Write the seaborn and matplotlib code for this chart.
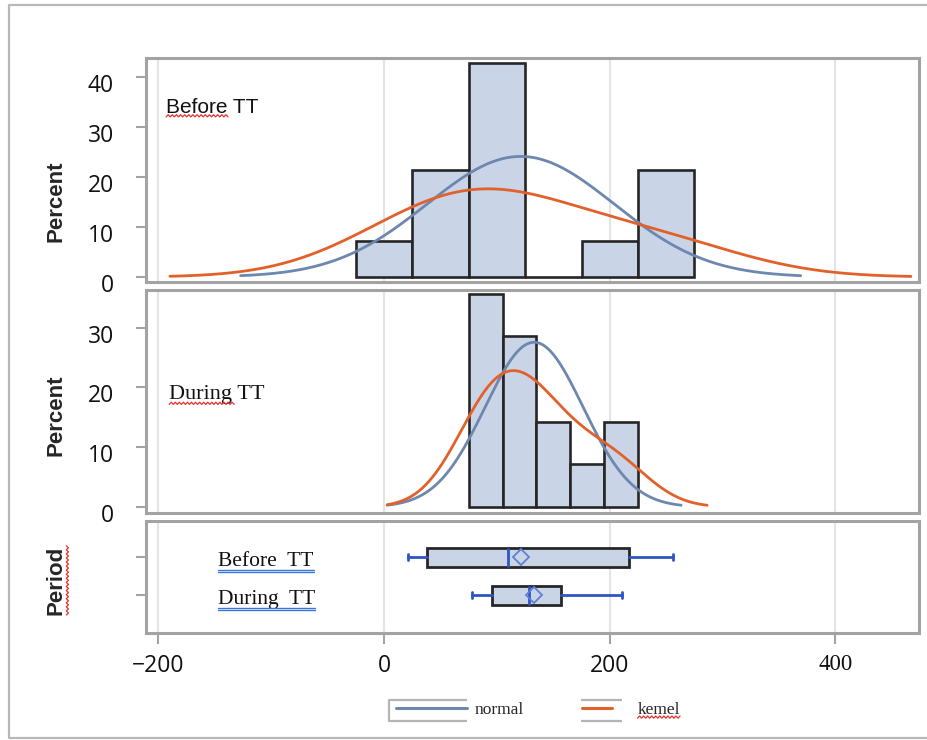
import numpy as np
import pandas as pd
import matplotlib
matplotlib.use("Agg")
import matplotlib.pyplot as plt
import matplotlib.transforms as mtransforms
from matplotlib.lines import Line2D
import seaborn as sns

# ---------------- data ----------------
periods = ["Before TT", "During TT"]
box_labels = ["Before  TT", "During  TT"]
before_values = [21, 27, 30, 55, 78, 95, 105, 110, 112, 120, 195, 240, 250, 256]
during_values = [78, 86, 92, 97, 102, 110, 127, 132, 134, 142, 160, 185, 205, 211]
before_bins = [-25, 25, 75, 125, 175, 225, 275]
during_bins = [75, 105, 135, 165, 195, 225]
kde_bw_adjust = [1.6, 1.25]
kde_cut = [2.7, 2.35]
# box statistics: whisker low, Q1, median, Q3, whisker high, mean
box_whislo = [21, 78]
box_q1 = [38, 96]
box_med = [110, 128]
box_q3 = [217, 157]
box_whishi = [256, 211]
box_mean = [121, 133]
x_ticks = [-200, 0, 200, 400]
top_yticks = [0, 10, 20, 30, 40]
mid_yticks = [0, 10, 20, 30]
legend_labels = ["normal", "kemel"]

# ---------------- style ----------------
sns.set_style("white")
plt.rcParams["font.family"] = ["Open Sans", "DejaVu Sans"]
W, H = 927, 740
BAR = "#C9D5E6"
EDGE = "#262626"
NORMAL = "#6D87AE"
KERNEL = "#E2612B"
FRAME = "#A3A3A3"
GRID = "#E4E4E4"
WHISK = "#2D56C2"
SERIF = ["Liberation Serif", "DejaVu Serif"]
SANS2 = ["Liberation Sans", "DejaVu Sans"]

fig = plt.figure(figsize=(W / 100, H / 100), dpi=100)


def axes_px(left, top, right, bottom):
    return fig.add_axes([left / W, 1 - bottom / H, (right - left) / W, (bottom - top) / H])


ax_top = axes_px(146, 58, 919, 282)
ax_mid = axes_px(146, 290, 919, 513)
ax_box = axes_px(146, 521, 919, 633)

XLIM = (-211, 474)


def style_axes(ax):
    ax.set_xlim(*XLIM)
    ax.set_xticks(x_ticks)
    ax.grid(axis="x", color=GRID, lw=1.5, zorder=0)
    ax.grid(axis="y", visible=False)
    ax.set_axisbelow(True)
    for sp in ax.spines.values():
        sp.set_color(FRAME)
        sp.set_linewidth(2.2)
    ax.tick_params(axis="y", length=7, width=1.5, color=FRAME, pad=16,
                   labelsize=16.5, labelcolor="#111111", left=True)
    ax.set_xlabel("")


def hist_panel(ax, values, bins, bw_adj, cut, yticks, ylim):
    sns.histplot(x=values, bins=bins, stat="percent", kde=True,
                 kde_kws={"bw_adjust": bw_adj, "cut": cut},
                 color=BAR, edgecolor=EDGE, linewidth=1.9, alpha=1,
                 line_kws={"lw": 2.0, "zorder": 4}, ax=ax)
    ax.lines[-1].set_color(KERNEL)
    mu = np.mean(values)
    sd = np.std(values, ddof=1)
    width = bins[1] - bins[0]
    xs = np.linspace(mu - 3 * sd, mu + 3 * sd, 300)
    ys = 100 * width * np.exp(-0.5 * ((xs - mu) / sd) ** 2) / (sd * np.sqrt(2 * np.pi))
    sns.lineplot(x=xs, y=ys, color=NORMAL, lw=2.0, ax=ax, zorder=3)
    style_axes(ax)
    ax.set_ylim(*ylim)
    ax.set_yticks(yticks)
    ax.tick_params(axis="x", length=0, labelbottom=False)
    ax.set_ylabel("Percent", fontsize=16, fontweight="bold", family=SANS2)


hist_panel(ax_top, before_values, before_bins, kde_bw_adjust[0], kde_cut[0],
           top_yticks, (-1.0, 43.8))
hist_panel(ax_mid, during_values, during_bins, kde_bw_adjust[1], kde_cut[1],
           mid_yticks, (-1.0, 36.3))
ax_top.yaxis.set_label_coords(-0.103, 0.36)
ax_mid.yaxis.set_label_coords(-0.103, 0.44)

t_before = ax_top.text(0.026, 0.78, periods[0], transform=ax_top.transAxes,
                       fontsize=15, va="center", ha="left", family=SANS2, color="#111111")
t_during = ax_mid.text(0.030, 0.53, periods[1], transform=ax_mid.transAxes,
                       fontsize=16, va="center", ha="left", family=SERIF, color="#111111")

# ---------------- box panel ----------------
stats = []
for i in range(len(periods)):
    stats.append({"label": periods[i], "whislo": box_whislo[i], "q1": box_q1[i],
                  "med": box_med[i], "q3": box_q3[i], "whishi": box_whishi[i],
                  "mean": box_mean[i], "fliers": []})
ax_box.bxp(stats, positions=range(len(periods)), widths=0.5, orientation="horizontal",
           patch_artist=True, showmeans=True, capwidths=0.16,
           boxprops={"facecolor": BAR, "edgecolor": EDGE, "linewidth": 2.0},
           medianprops={"color": WHISK, "linewidth": 2.0},
           whiskerprops={"color": WHISK, "linewidth": 2.0},
           capprops={"color": WHISK, "linewidth": 2.0},
           meanprops={"marker": "D", "markerfacecolor": "none",
                      "markeredgecolor": "#5F7FD6", "markersize": 8, "markeredgewidth": 1.3},
           manage_ticks=False, zorder=3)
style_axes(ax_box)
ax_box.set_ylim(2.0, -0.95)
ax_box.set_yticks(range(len(periods)))
ax_box.set_yticklabels([])
ax_box.tick_params(axis="x", length=8, width=1.5, color=FRAME, pad=7,
                   labelsize=16.5, labelcolor="#111111", bottom=True)
ax_box.set_ylabel("Period", fontsize=16, fontweight="bold", family=SANS2)
ax_box.yaxis.set_label_coords(-0.103, 0.47)
xlabs = ax_box.get_xticklabels()
xlabs[-1].set_family(SERIF)
box_texts = []
for i, lab in enumerate(box_labels):
    box_texts.append(ax_box.text(-147, i + 0.12, lab, fontsize=15.5, family=SERIF,
                                 va="center", ha="left", color="#111111"))

# shift y tick labels slightly downward as in the reference
offset = mtransforms.ScaledTranslation(0, -6 / 100, fig.dpi_scale_trans)
for ax in (ax_top, ax_mid):
    for lab in ax.get_yticklabels():
        lab.set_transform(lab.get_transform() + offset)

# ---------------- legend ----------------
leg1 = fig.legend(handles=[Line2D([], [], color=NORMAL, lw=2.2)], labels=[legend_labels[0]],
                  loc="center left", bbox_to_anchor=(396 / W, 1 - 710 / H), frameon=False,
                  prop={"family": SERIF, "size": 12.5}, handlelength=4.1,
                  handletextpad=0.45, borderpad=0, borderaxespad=0)
leg2 = fig.legend(handles=[Line2D([], [], color=KERNEL, lw=2.2)], labels=[legend_labels[1]],
                  loc="center left", bbox_to_anchor=(582 / W, 1 - 710 / H), frameon=False,
                  prop={"family": SERIF, "size": 12.5}, handlelength=1.75,
                  handletextpad=1.45, borderpad=0, borderaxespad=0)


def line_px(xs, ys, color, lw):
    xs = np.asarray(xs, float)
    ys = np.asarray(ys, float)
    fig.add_artist(Line2D(xs / W, 1 - ys / H, transform=fig.transFigure,
                          color=color, lw=lw, solid_capstyle="butt"))


LEGFRAME = "#B5B5B5"
line_px([467, 389, 389, 467], [700, 700, 721, 721], LEGFRAME, 1.6)
line_px([581, 622], [700, 700], LEGFRAME, 1.6)
line_px([581, 622], [721, 721], LEGFRAME, 1.6)

# outer frame
line_px([W + 5, 9, 9, W + 5], [5, 5, 738, 738], "#B8B8B8", 1.6)

# ---------------- spell-check squiggles / underlines ----------------
fig.canvas.draw()


def squiggle(x0, x1, y, vertical=False, color="#E8302C"):
    n = int(abs(x1 - x0) / 2) + 1
    t = np.linspace(x0, x1, n)
    off = np.where(np.arange(n) % 2 == 0, -1.1, 1.1)
    if vertical:
        xs, ys = y + off, t
    else:
        xs, ys = t, y + off
    fig.add_artist(Line2D(xs / W, ys / H, transform=fig.transFigure, color=color, lw=0.9))


def ext(artist):
    return artist.get_window_extent(renderer=fig.canvas.get_renderer())


bb = ext(t_before)
squiggle(bb.x0, bb.x0 + 0.67 * bb.width, bb.y0 + 1)
bb = ext(t_during)
squiggle(bb.x0, bb.x0 + 0.68 * bb.width, bb.y0 + 1)
bb = ext(ax_box.yaxis.label)
squiggle(bb.y0, bb.y1, bb.x1 + 1, vertical=True)
bb = ext(leg2.get_texts()[0])
squiggle(bb.x0, bb.x1, bb.y0 + 1)
for t in box_texts:
    bb = ext(t)
    for dy in (1.5, -1.0):
        fig.add_artist(Line2D([bb.x0 / W, bb.x1 / W], [(bb.y0 + dy) / H] * 2,
                              transform=fig.transFigure, color="#3A78D8", lw=1.0))

fig.savefig("out.png", dpi=100)
